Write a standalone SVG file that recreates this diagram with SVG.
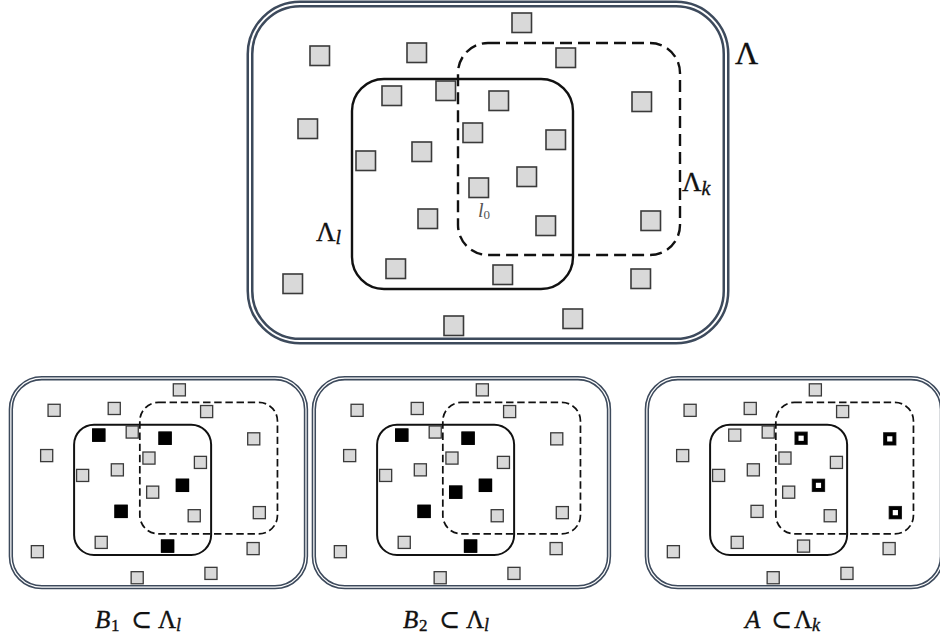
<svg xmlns="http://www.w3.org/2000/svg" width="940" height="640" viewBox="0 0 940 640">
<defs>
<style>
.outer{fill:none;stroke:#3d4a5c;stroke-width:7}
.gap{fill:none;stroke:#ffffff;stroke-width:2}
.solid{fill:none;stroke:#111;stroke-width:var(--sw,2.4)}
.dash{fill:none;stroke:#111;stroke-width:var(--dw,2.4);stroke-dasharray:12 6}
.sq{fill:#d9d9d9;stroke:#3a3a3a;stroke-width:var(--qw,1.6)}
.blk{fill:#000;stroke:#000;stroke-width:2}
.bold{fill:#fff;stroke:#000;stroke-width:5.6}
.small{--sw:3.2;--dw:2.8;--qw:2.1}
.lab{font-family:'Liberation Serif','DejaVu Serif',serif;fill:#111;stroke:#111;stroke-width:0.35}
.it{font-style:italic}
</style>
<g id="base">
<rect class="outer" x="250" y="4" width="476" height="337" rx="50"/>
<rect class="gap" x="250" y="4" width="476" height="337" rx="50"/>
<rect class="solid" x="352" y="79" width="221" height="210" rx="32"/>
<rect class="dash" x="458" y="43" width="222" height="212" rx="30"/>
<rect class="sq" x="512" y="13" width="19.5" height="19.5"/>
<rect class="sq" x="310" y="46" width="19.5" height="19.5"/>
<rect class="sq" x="407" y="43" width="19.5" height="19.5"/>
<rect class="sq" x="556" y="48" width="19.5" height="19.5"/>
<rect class="sq" x="382" y="86" width="19.5" height="19.5"/>
<rect class="sq" x="436" y="81" width="19.5" height="19.5"/>
<rect class="sq" x="489" y="91" width="19.5" height="19.5"/>
<rect class="sq" x="632" y="92" width="19.5" height="19.5"/>
<rect class="sq" x="298" y="119" width="19.5" height="19.5"/>
<rect class="sq" x="463" y="123" width="19.5" height="19.5"/>
<rect class="sq" x="412" y="142" width="19.5" height="19.5"/>
<rect class="sq" x="356" y="151" width="19.5" height="19.5"/>
<rect class="sq" x="546" y="130" width="19.5" height="19.5"/>
<rect class="sq" x="517" y="167" width="19.5" height="19.5"/>
<rect class="sq" x="469" y="178" width="19.5" height="19.5"/>
<rect class="sq" x="418" y="209" width="19.5" height="19.5"/>
<rect class="sq" x="536" y="216" width="19.5" height="19.5"/>
<rect class="sq" x="641" y="211" width="19.5" height="19.5"/>
<rect class="sq" x="386" y="259" width="19.5" height="19.5"/>
<rect class="sq" x="493" y="265" width="19.5" height="19.5"/>
<rect class="sq" x="283" y="274" width="19.5" height="19.5"/>
<rect class="sq" x="631" y="269" width="19.5" height="19.5"/>
<rect class="sq" x="444" y="316" width="19.5" height="19.5"/>
<rect class="sq" x="563" y="309" width="19.5" height="19.5"/>
</g>
</defs>

<g id="main">
<use href="#base"/>
<text class="lab" x="735" y="64" font-size="32">Λ</text>
<text class="lab" x="682" y="191" font-size="27">Λ<tspan class="it" font-size="20" dy="4">k</tspan></text>
<text class="lab" x="316" y="241" font-size="27">Λ<tspan class="it" font-size="20" dy="3">l</tspan></text>
<text x="478" y="217" font-size="20" style="font-family:'Liberation Serif','DejaVu Serif',serif;fill:#555"><tspan class="it">l</tspan><tspan font-size="13" dy="2">0</tspan></text>
</g>

<g id="panel-b1" class="small" transform="translate(9,377) scale(0.62) translate(-247,-2)">
<use href="#base"/>
<rect class="blk" x="382" y="86" width="19.5" height="19.5"/>
<rect class="blk" x="489" y="91" width="19.5" height="19.5"/>
<rect class="blk" x="517" y="167" width="19.5" height="19.5"/>
<rect class="blk" x="418" y="209" width="19.5" height="19.5"/>
<rect class="blk" x="493" y="265" width="19.5" height="19.5"/>
</g>

<g id="panel-b2" class="small" transform="translate(312,377) scale(0.62) translate(-247,-2)">
<use href="#base"/>
<rect class="blk" x="382" y="86" width="19.5" height="19.5"/>
<rect class="blk" x="489" y="91" width="19.5" height="19.5"/>
<rect class="blk" x="517" y="167" width="19.5" height="19.5"/>
<rect class="blk" x="469" y="178" width="19.5" height="19.5"/>
<rect class="blk" x="418" y="209" width="19.5" height="19.5"/>
<rect class="blk" x="493" y="265" width="19.5" height="19.5"/>
</g>

<g id="panel-a" class="small" transform="translate(645,377) scale(0.62) translate(-247,-2)">
<use href="#base"/>
<rect class="bold" x="491.8" y="93.8" width="14" height="14"/>
<rect class="bold" x="634.8" y="94.8" width="14" height="14"/>
<rect class="bold" x="519.8" y="169.8" width="14" height="14"/>
<rect class="bold" x="643.8" y="213.8" width="14" height="14"/>
</g>

<g id="captions">
<text class="lab" y="628" font-size="25"><tspan class="it" x="95">B</tspan><tspan x="111" font-size="17" dy="3">1</tspan><tspan x="131" dy="-3">⊂</tspan><tspan x="158">Λ</tspan><tspan class="it" x="176" font-size="18" dy="3">l</tspan></text>
<text class="lab" y="628" font-size="25"><tspan class="it" x="403">B</tspan><tspan x="419" font-size="17" dy="3">2</tspan><tspan x="439" dy="-3">⊂</tspan><tspan x="466">Λ</tspan><tspan class="it" x="484" font-size="18" dy="3">l</tspan></text>
<text class="lab" y="628" font-size="25"><tspan class="it" x="745">A</tspan><tspan x="771">⊂</tspan><tspan x="794">Λ</tspan><tspan class="it" x="812" font-size="18" dy="3">k</tspan></text>
</g>
</svg>
